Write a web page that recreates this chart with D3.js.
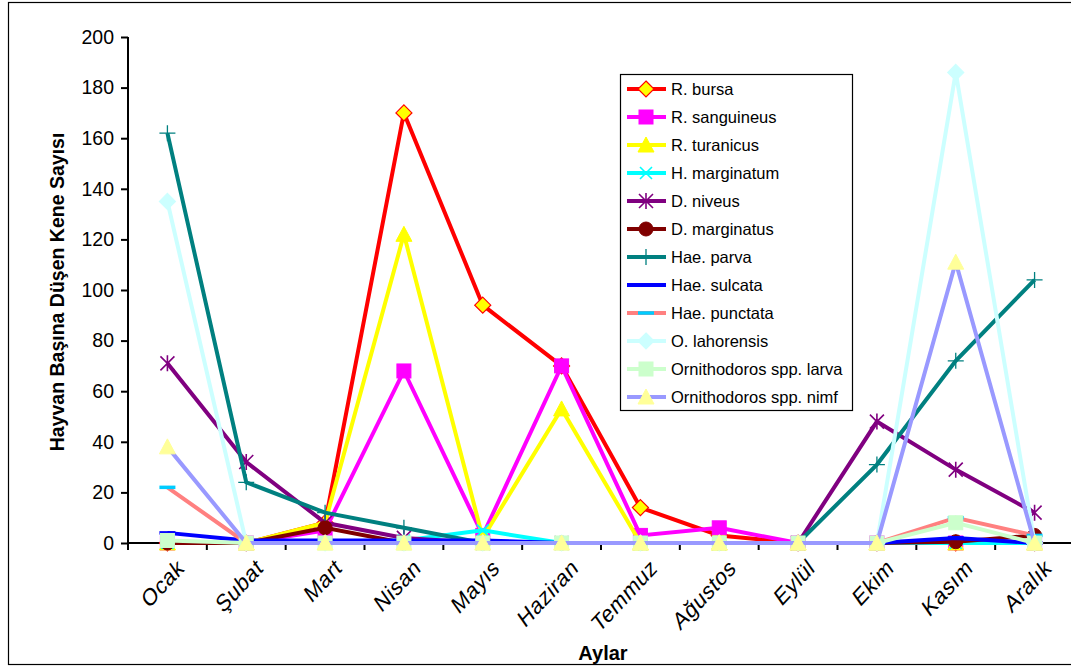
<!DOCTYPE html>
<html>
<head>
<meta charset="utf-8">
<script src="https://cdn.jsdelivr.net/npm/d3@7"></script>
<style>
  body { margin: 0; background: #fff; }
  text { font-family: "Liberation Sans", Arial, sans-serif; }
</style>
</head>
<body>
<script>
const width = 1071, height = 667;

const months = ["Ocak", "Şubat", "Mart", "Nisan", "Mayıs", "Haziran", "Temmuz", "Ağustos", "Eylül", "Ekim", "Kasım", "Aralık"];
const yTicks = [0, 20, 40, 60, 80, 100, 120, 140, 160, 180, 200];

const rBursa       = [0, 0, 8, 170, 94, 70, 14, 3, 0, 0, 0, 0];
const rSanguineus  = [0, 0, 5, 68, 3, 70, 3, 6, 0, 0, 0, 0];
const rTuranicus   = [0, 0, 8, 122, 2, 53, 0, 0, 0, 0, 0, 0];
const hMarginatum  = [0, 0, 0, 1, 5, 0, 0, 0, 0, 0, 0, 0];
const dNiveus      = [71, 32, 8, 2, 0, 0, 0, 0, 0, 48, 29, 12];
const dMarginatus  = [0, 0, 6, 0, 0, 0, 0, 0, 0, 0, 0.5, 3];
const haeParva     = [162, 24, 12, 6, 0, 0, 0, 0, 0, 31, 72, 104];
const haeSulcata   = [4, 1, 1, 1, 1, 0, 0, 0, 0, 0, 2, 0];
const haePunctata  = [22, 0, 0, 0, 0, 0, 0, 0, 0, 0, 10, 3];
const oLahorensis  = [135, 0, 0, 0, 0, 0, 0, 0, 0, 0, 186, 0];
const ornLarva     = [1, 0, 0, 0, 0, 0, 0, 0, 0, 0, 8, 0];
const ornNimf      = [38, 0, 0, 0, 0, 0, 0, 0, 0, 0, 111, 0];

const series = [
  {name: "R. bursa", values: rBursa, line: "#FF0000", marker: "diamond", fill: "#FFFF00", stroke: "#FF0000"},
  {name: "R. sanguineus", values: rSanguineus, line: "#FF00FF", marker: "square", fill: "#FF00FF", stroke: "#FF00FF"},
  {name: "R. turanicus", values: rTuranicus, line: "#FFFF00", marker: "triangle", fill: "#FFFF00", stroke: "#FFFF00"},
  {name: "H. marginatum", values: hMarginatum, line: "#00FFFF", marker: "x", fill: "none", stroke: "#00FFFF"},
  {name: "D. niveus", values: dNiveus, line: "#800080", marker: "star", fill: "none", stroke: "#800080"},
  {name: "D. marginatus", values: dMarginatus, line: "#800000", marker: "circle", fill: "#800000", stroke: "#800000"},
  {name: "Hae. parva", values: haeParva, line: "#008080", marker: "plus", fill: "none", stroke: "#008080"},
  {name: "Hae. sulcata", values: haeSulcata, line: "#0000FF", marker: "dash", fill: "none", stroke: "#0000FF"},
  {name: "Hae. punctata", values: haePunctata, line: "#FF8080", marker: "dash", fill: "none", stroke: "#00CCFF"},
  {name: "O. lahorensis", values: oLahorensis, line: "#CCFFFF", marker: "diamond", fill: "#CCFFFF", stroke: "#CCFFFF"},
  {name: "Ornithodoros spp. larva", values: ornLarva, line: "#CCFFCC", marker: "square", fill: "#CCFFCC", stroke: "#CCFFCC"},
  {name: "Ornithodoros spp. nimf", values: ornNimf, line: "#9999FF", marker: "triangle", fill: "#FFFF99", stroke: "#FFFF99"}
];

const svg = d3.select("body").append("svg")
  .attr("width", width)
  .attr("height", height);

// outer chart frame
svg.append("rect")
  .attr("x", 8.5).attr("y", 2.5)
  .attr("width", width + 10).attr("height", 662)
  .attr("fill", "none").attr("stroke", "#000").attr("stroke-width", 1.2);

const x = d3.scaleBand().domain(months).range([128, 1074]);
const y = d3.scaleLinear().domain([0, 200]).range([543, 37]);
const cx = d => x(d) + x.bandwidth() / 2;

// y axis
const yAxis = svg.append("g")
  .attr("transform", "translate(128,0)")
  .call(d3.axisLeft(y).tickValues(yTicks).tickSize(7).tickPadding(7));
yAxis.select(".domain").attr("stroke", "#000").attr("stroke-width", 2).attr("d", "M0," + y(200) + "V" + (y(0) + 1));
yAxis.selectAll(".tick line").attr("stroke", "#000").attr("stroke-width", 2);
yAxis.selectAll(".tick text").attr("font-size", 19.5).attr("fill", "#000")
  .style("font-family", "Liberation Sans, Arial, sans-serif");

// x axis
const xAxis = svg.append("g").attr("transform", "translate(0," + y(0) + ")");
xAxis.append("line")
  .attr("x1", 127).attr("x2", width)
  .attr("stroke", "#000").attr("stroke-width", 2);
xAxis.selectAll("line.tk")
  .data(months)
  .join("line")
    .attr("class", "tk")
    .attr("x1", d => x(d)).attr("x2", d => x(d))
    .attr("y1", 0).attr("y2", 7)
    .attr("stroke", "#000").attr("stroke-width", 2);
xAxis.selectAll("text")
  .data(months)
  .join("text")
    .attr("transform", d => "translate(" + (cx(d) + 9) + ",14) rotate(-47) skewX(-12)")
    .attr("text-anchor", "end")
    .attr("dy", "0.7em")
    .attr("font-size", 22)
    .attr("letter-spacing", 0.6)
    .text(d => d);

// axis titles
svg.append("text")
  .attr("transform", "translate(64,292) rotate(-90)")
  .attr("text-anchor", "middle")
  .attr("font-size", 19.5).attr("font-weight", "bold")
  .text("Hayvan Başına Düşen Kene Sayısı");

svg.append("text")
  .attr("x", 603).attr("y", 660)
  .attr("text-anchor", "middle")
  .attr("font-size", 20).attr("font-weight", "bold")
  .text("Aylar");

// markers
function drawMarker(g, s, px, py) {
  const m = s.marker;
  if (m === "diamond") {
    g.append("path").attr("d", `M${px},${py - 8}L${px + 8},${py}L${px},${py + 8}L${px - 8},${py}Z`)
      .attr("fill", s.fill).attr("stroke", s.stroke).attr("stroke-width", 1.2);
  } else if (m === "square") {
    g.append("rect").attr("x", px - 7).attr("y", py - 7).attr("width", 14).attr("height", 14)
      .attr("fill", s.fill).attr("stroke", s.stroke).attr("stroke-width", 1);
  } else if (m === "triangle") {
    g.append("path").attr("d", `M${px},${py - 8}L${px + 8},${py + 7}L${px - 8},${py + 7}Z`)
      .attr("fill", s.fill).attr("stroke", s.stroke).attr("stroke-width", 1);
  } else if (m === "circle") {
    g.append("circle").attr("cx", px).attr("cy", py).attr("r", 7)
      .attr("fill", s.fill).attr("stroke", s.stroke);
  } else if (m === "x") {
    g.append("path").attr("d", `M${px - 6},${py - 6}L${px + 6},${py + 6}M${px - 6},${py + 6}L${px + 6},${py - 6}`)
      .attr("stroke", s.stroke).attr("stroke-width", 1.6);
  } else if (m === "star") {
    g.append("path").attr("d", `M${px - 7},${py - 7}L${px + 7},${py + 7}M${px - 7},${py + 7}L${px + 7},${py - 7}M${px},${py - 8}V${py + 8}`)
      .attr("stroke", s.stroke).attr("stroke-width", 1.6);
  } else if (m === "plus") {
    g.append("path").attr("d", `M${px - 8},${py}H${px + 8}M${px},${py - 8}V${py + 8}`)
      .attr("stroke", s.stroke).attr("stroke-width", 1.3);
  } else if (m === "dash") {
    g.append("path").attr("d", `M${px - 8},${py}H${px + 8}`)
      .attr("stroke", s.stroke).attr("stroke-width", 3.5);
  }
}

const line = d3.line()
  .x((d, i) => cx(months[i]))
  .y(d => y(d));

const plot = svg.append("g");
series.forEach(s => {
  const g = plot.append("g");
  g.append("path")
    .attr("d", line(s.values))
    .attr("fill", "none")
    .attr("stroke", s.line)
    .attr("stroke-width", 4)
    .attr("stroke-linejoin", "miter");
  s.values.forEach((v, i) => drawMarker(g, s, cx(months[i]), y(v)));
});

// legend
const legend = svg.append("g");
legend.append("rect")
  .attr("x", 620.5).attr("y", 74.5).attr("width", 232).attr("height", 336)
  .attr("fill", "#fff").attr("stroke", "#000").attr("stroke-width", 1.2);
series.forEach((s, i) => {
  const ly = 89 + i * 28;
  const g = legend.append("g");
  g.append("line").attr("x1", 627).attr("x2", 666).attr("y1", ly).attr("y2", ly)
    .attr("stroke", s.line).attr("stroke-width", 4);
  drawMarker(g, s, 646, ly);
  g.append("text").attr("x", 671).attr("y", ly).attr("dy", "0.36em")
    .attr("font-size", 16.5).text(s.name);
});
</script>
</body>
</html>
